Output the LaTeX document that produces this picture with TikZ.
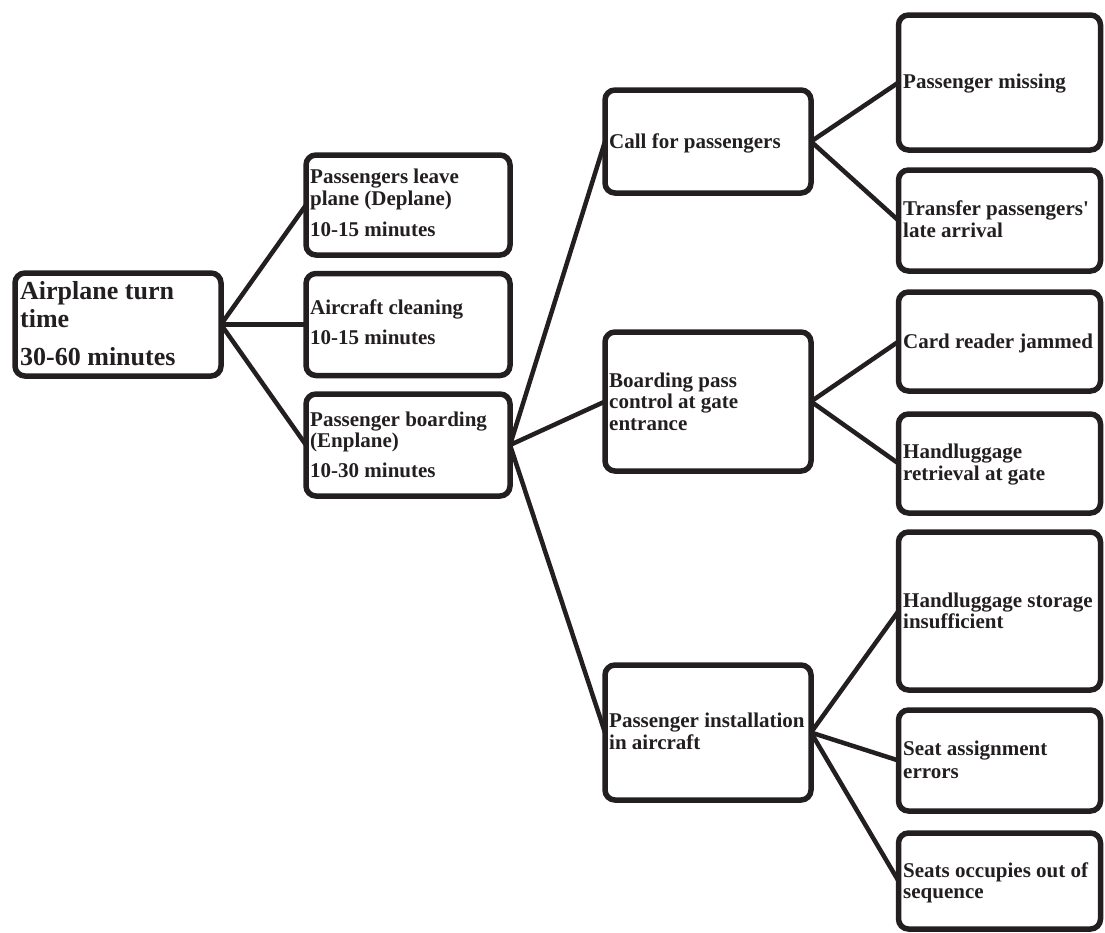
\documentclass[tikz,border=0pt]{standalone}
\usepackage{fontspec}
\setmainfont{Liberation Serif}[Ligatures=TeXOff]
\definecolor{ink}{HTML}{231F20}
\begin{document}
\begin{tikzpicture}[x=1pt,y=-1pt,
  box/.style={draw=ink, line width=5.5pt, rounded corners=10pt, inner sep=0pt, outer sep=0pt},
  link/.style={draw=ink, line width=4.5pt},
  big/.style={anchor=base west, inner sep=0pt, text=ink, font=\bfseries\fontsize{26}{29}\selectfont},
  txt/.style={anchor=base west, inner sep=0pt, text=ink, font=\bfseries\fontsize{21}{22}\selectfont}]
\useasboundingbox (0,0) rectangle (1105,932);
% boxes
\node[box, minimum width=206pt, minimum height=103pt] (root) at (118,324.5) {};
\node[box, minimum width=204pt, minimum height=100pt] (dep) at (408,205) {};
\node[box, minimum width=204pt, minimum height=102pt] (cln) at (408,324.5) {};
\node[box, minimum width=204pt, minimum height=102pt] (enp) at (408,445) {};
\node[box, minimum width=206pt, minimum height=103pt] (call) at (708,141.5) {};
\node[box, minimum width=206pt, minimum height=139pt] (pass) at (708,401.5) {};
\node[box, minimum width=206pt, minimum height=135pt] (inst) at (708,732.5) {};
\node[box, minimum width=202pt, minimum height=135pt] (miss) at (999.5,82.5) {};
\node[box, minimum width=202pt, minimum height=101pt] (trans) at (999.5,220.5) {};
\node[box, minimum width=202pt, minimum height=99pt] (card) at (999.5,341.5) {};
\node[box, minimum width=202pt, minimum height=99pt] (retr) at (999.5,463.5) {};
\node[box, minimum width=202pt, minimum height=158pt] (stor) at (999.5,611) {};
\node[box, minimum width=202pt, minimum height=101pt] (seat) at (999.5,760.5) {};
\node[box, minimum width=202pt, minimum height=96pt] (occ) at (999.5,881) {};
% connectors
\draw[link] (root.east) -- (dep.west);
\draw[link] (root.east) -- (cln.west);
\draw[link] (root.east) -- (enp.west);
\draw[link] (enp.east) -- (call.west);
\draw[link] (enp.east) -- (pass.west);
\draw[link] (enp.east) -- (inst.west);
\draw[link] (call.east) -- (miss.west);
\draw[link] (call.east) -- (trans.west);
\draw[link] (pass.east) -- (card.west);
\draw[link] (pass.east) -- (retr.west);
\draw[link] (inst.east) -- (stor.west);
\draw[link] (inst.east) -- (seat.west);
\draw[link] (inst.east) -- (occ.west);
% texts
\node[big] (tr1) at (20,299) {Airplane turn};
\node[big] (tr2) at (20,327) {time};
\node[big] (tr3) at (20,365) {30-60 minutes};
\node[txt] (td1) at (310,183) {Passengers leave};
\node[txt] (td2) at (310,205) {plane (Deplane)};
\node[txt] (td3) at (310,236) {10-15 minutes};
\node[txt] (tc1) at (310,314) {Aircraft cleaning};
\node[txt] (tc2) at (310,344) {10-15 minutes};
\node[txt] (te1) at (310,426) {Passenger boarding};
\node[txt] (te2) at (310,447) {(Enplane)};
\node[txt] (te3) at (310,477) {10-30 minutes};
\node[txt] (tcall) at (609,148) {Call for passengers};
\node[txt] (tp1) at (609,387) {Boarding pass};
\node[txt] (tp2) at (609,408) {control at gate};
\node[txt] (tp3) at (609,430) {entrance};
\node[txt] (ti1) at (609,727) {Passenger installation};
\node[txt] (ti2) at (609,749) {in aircraft};
\node[txt] (tm) at (903,88) {Passenger missing};
\node[txt] (tt1) at (903,215) {Transfer passengers'};
\node[txt] (tt2) at (903,237) {late arrival};
\node[txt] (tk) at (903,348) {Card reader jammed};
\node[txt] (th1) at (903,458) {Handluggage};
\node[txt] (th2) at (903,480) {retrieval at gate};
\node[txt] (ts1) at (903,607) {Handluggage storage};
\node[txt] (ts2) at (903,628) {insufficient};
\node[txt] (ta1) at (903,755) {Seat assignment};
\node[txt] (ta2) at (903,778) {errors};
\node[txt] (to1) at (903,877) {Seats occupies out of};
\node[txt] (to2) at (903,898) {sequence};
\end{tikzpicture}
\end{document}
